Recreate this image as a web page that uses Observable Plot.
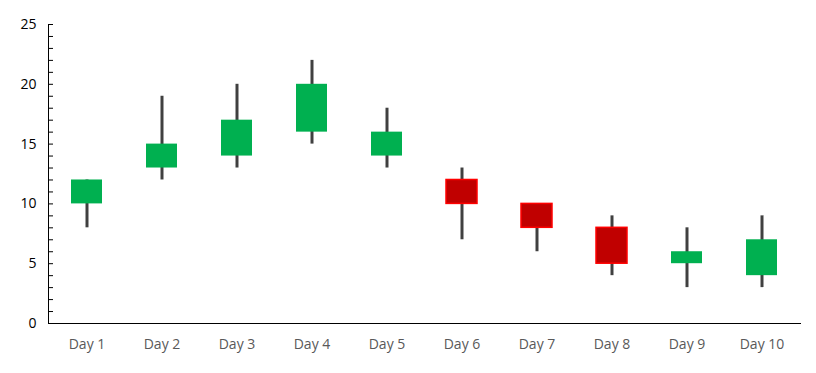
<!DOCTYPE html>
<html>
<head>
<meta charset="utf-8">
<script src="https://cdn.jsdelivr.net/npm/d3@7"></script>
<script src="https://cdn.jsdelivr.net/npm/@observablehq/plot@0.6"></script>
<style>
  html, body { margin: 0; padding: 0; background: #fff; }
  #chart { width: 816px; height: 373px; }
</style>
</head>
<body>
<div id="chart"></div>
<script>
const days = ["Day 1","Day 2","Day 3","Day 4","Day 5","Day 6","Day 7","Day 8","Day 9","Day 10"];
const openVals  = [10, 13, 14, 16, 14, 12, 10, 8, 5, 4];
const closeVals = [12, 15, 17, 20, 16, 10, 8, 5, 6, 7];
const highVals  = [12, 19, 20, 22, 18, 13, 10, 9, 8, 9];
const lowVals   = [8, 12, 13, 15, 13, 7, 6, 4, 3, 3];
const yMajorTicks = [0, 5, 10, 15, 20, 25];
const yMinorTicks = d3.range(0, 26);

const data = days.map((d, i) => ({
  day: d, open: openVals[i], close: closeVals[i], high: highVals[i], low: lowVals[i],
  up: closeVals[i] >= openVals[i]
}));

const chart = Plot.plot({
  width: 816,
  height: 373,
  marginLeft: 48,
  marginRight: 16,
  marginTop: 24,
  marginBottom: 50,
  style: { fontFamily: "'Open Sans', sans-serif", fontSize: "14px", background: "#fff" },
  x: { domain: days, paddingInner: 0.588, paddingOuter: 0.294, align: 0.5, label: null },
  y: { domain: [0, 25], label: null },
  marks: [
    Plot.axisY({ ticks: yMinorTicks, tickSize: -5, text: null, stroke: "#000" }),
    Plot.axisY({ ticks: yMajorTicks, tickSize: 0, tickPadding: 12, fill: "#000", fontSize: 14, label: null }),
    Plot.axisX({ tickSize: 0, tickPadding: 16, fill: "#595959", fontSize: 14, label: null }),
    Plot.frame({ anchor: "left", stroke: "#000" }),
    Plot.frame({ anchor: "bottom", stroke: "#000" }),
    Plot.ruleX(data, { x: "day", y1: "low", y2: "high", stroke: "#404040", strokeWidth: 3 }),
    Plot.barY(data, {
      x: "day", y1: "open", y2: "close",
      fill: d => d.up ? "#00B050" : "#C00000",
      stroke: d => d.up ? "none" : "#FF0000",
      strokeWidth: 1.5
    })
  ]
});
document.getElementById("chart").appendChild(chart);
</script>
</body>
</html>
